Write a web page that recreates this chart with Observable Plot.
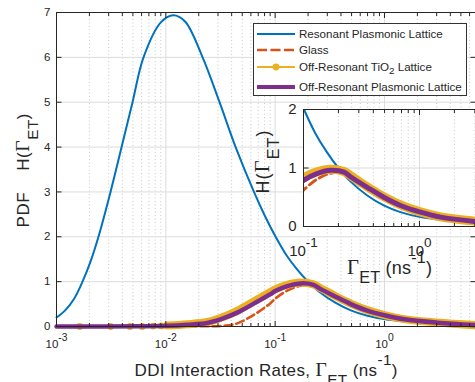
<!DOCTYPE html>
<html><head><meta charset="utf-8">
<script src="https://cdn.jsdelivr.net/npm/d3@7"></script>
<script src="https://cdn.jsdelivr.net/npm/@observablehq/plot@0.6"></script>
<style>
body{margin:0;background:#fff}
#wrap{position:relative;width:475px;height:382px;overflow:hidden;font-family:"Liberation Sans",Arial,sans-serif;color:#262626}
#wrap svg{position:absolute;left:0;top:0;background:transparent !important}
#legend{position:absolute;left:253px;top:23px;width:214px;height:73px;box-sizing:border-box;border:1px solid #333;background:#fff;font-size:11.6px}
#legend .row{position:absolute;left:3px;height:16px;line-height:16px;white-space:nowrap}
#legend .row svg{position:static;vertical-align:top;display:inline-block}
#legend .row span{display:inline-block;margin-left:4px;vertical-align:top}
#legend sub{font-size:0.85em;line-height:0;vertical-align:-0.3em}
</style>
</head><body><div id="wrap"></div>
<script>
// ---------- data ----------
const resonantX = [0.001, 0.0012, 0.00145, 0.00173, 0.00205, 0.00242, 0.00312, 0.00394, 0.00496, 0.00625, 0.0090, 0.0117, 0.0150, 0.0217, 0.031, 0.0435, 0.064, 0.080, 0.101, 0.126, 0.158, 0.2, 0.251, 0.355, 0.492, 0.685, 1.02, 1.52, 3.04, 6.8];
const resonantY = [0.2, 0.36, 0.62, 1.0, 1.45, 2, 3, 4, 5, 6, 6.78, 6.94, 6.8, 6, 5, 4, 3, 2.48, 2.0, 1.6, 1.28, 1.0, 0.78, 0.53, 0.36, 0.245, 0.16, 0.115, 0.055, 0.02];

const glassX = [0.001, 0.01, 0.02, 0.035, 0.045, 0.0638, 0.0906, 0.1, 0.129, 0.171, 0.224, 0.254, 0.354, 0.492, 0.685, 1.02, 1.52, 3.04, 6.8];
const glassY = [0, 0, 0.004, 0.02, 0.07, 0.26, 0.52, 0.62, 0.80, 0.91, 0.92, 0.86, 0.67, 0.50, 0.36, 0.245, 0.16, 0.085, 0.03];

const tio2X = [0.001, 0.006, 0.0103, 0.0157, 0.0239, 0.0316, 0.045, 0.0638, 0.0906, 0.1, 0.129, 0.171, 0.224, 0.254, 0.354, 0.492, 0.685, 1.02, 1.52, 3.04, 6.8];
const tio2Y = [0, 0.008, 0.02, 0.05, 0.10, 0.19, 0.35, 0.56, 0.77, 0.83, 0.93, 0.98, 0.94, 0.87, 0.68, 0.51, 0.37, 0.25, 0.165, 0.09, 0.03];
const tio2MarkerX = [0.00163, 0.00312, 0.00469, 0.00608, 0.00767, 0.00908, 0.0106];
const tio2MarkerY = [0, 0, 0, 0, 0.01, 0.013, 0.02];

const offResX = [0.001, 0.006, 0.0103, 0.0157, 0.0239, 0.0316, 0.045, 0.0638, 0.0906, 0.1, 0.129, 0.171, 0.224, 0.254, 0.354, 0.492, 0.685, 1.02, 1.52, 3.04, 6.8];
const offResY = [0, 0.005, 0.015, 0.04, 0.08, 0.16, 0.31, 0.51, 0.72, 0.79, 0.90, 0.96, 0.93, 0.85, 0.67, 0.50, 0.36, 0.245, 0.16, 0.085, 0.03];

// ---------- ticks ----------
const xMajorMain = [0.001, 0.01, 0.1, 1];
const xMajorLabels = ["10^{-3}", "10^{-2}", "10^{-1}", "10^{0}"];
const xMinorMain = [0.002,0.003,0.004,0.005,0.006,0.007,0.008,0.009,0.02,0.03,0.04,0.05,0.06,0.07,0.08,0.09,0.2,0.3,0.4,0.5,0.6,0.7,0.8,0.9,2,3,4,5,6];
const yTicksMain = [0,1,2,3,4,5,6,7];
const insetXMajor = [0.1, 1];
const insetXLabels = ["10^{-1}", "10^{0}"];
const insetXMinor = [0.2,0.3,0.4,0.5,0.6,0.7,0.8,0.9,2,3];
const insetYTicks = [0,1,2];

const xLabel = "DDI Interaction Rates, Γ_{ET} (ns^{-1})";
const yLabel = "PDF\u00a0\u00a0\u00a0\u00a0H(Γ_{ET})";
const insetXLabel = "Γ_{ET} (ns^{-1})";
const insetYLabel = "H(Γ_{ET})";

const seriesNames = ["Resonant Plasmonic Lattice", "Glass", "Off-Resonant TiO_2 Lattice", "Off-Resonant Plasmonic Lattice"];
const colors = {blue:"#0072BD", red:"#D95319", yellow:"#EDB120", purple:"#7E2F8E"};

const zipXY = (X, Y) => X.map((x, i) => ({x, y: Y[i]}));
const resonant = zipXY(resonantX, resonantY);
const glass = zipXY(glassX, glassY);
const tio2 = zipXY(tio2X, tio2Y);
const tio2Markers = zipXY(tio2MarkerX, tio2MarkerY);
const offRes = zipXY(offResX, offResY);

const AX = "#262626", GRID = "#dcdcdc", MINOR = "#bdbdbd";
const FONT = "Liberation Sans, Arial, sans-serif";
const CURVE = "catmull-rom";
// rendered length (px) of the axis titles, as measured on the reference
const labelLength = new Map([[xLabel, 263], [yLabel, 114], [insetXLabel, 85], [insetYLabel, 63]]);

// tick marks as custom dot symbols (length = r)
const mk = (dx, dy) => ({draw(c, s){ const l = Math.sqrt(s/Math.PI); c.moveTo(0,0); c.lineTo(dx*l, dy*l); }});
const tUp = mk(0,-1), tDown = mk(0,1), tRight = mk(1,0), tLeft = mk(-1,0);

function texify(el){
  const s = el.textContent;
  if (!/[\^_Γ]/.test(s)) return;
  const fs = parseFloat(getComputedStyle(el).fontSize) || 12;
  const ns = "http://www.w3.org/2000/svg";
  el.textContent = "";
  let shift = 0;
  for (const m of s.matchAll(/([\^_])\{([^}]*)\}|(Γ)|([^\^_Γ]+)/g)) {
    const t = document.createElementNS(ns, "tspan");
    let target = 0;
    if (m[1]) { target = m[1] === "^" ? -0.6*fs : 0.55*fs; t.setAttribute("font-size", 0.9*fs); t.textContent = m[2]; }
    else if (m[3]) { t.setAttribute("font-family", "Liberation Serif, DejaVu Serif, serif"); t.setAttribute("font-size", 1.15*fs); t.textContent = "Γ"; }
    else t.textContent = m[4];
    const dy = target - shift;
    if (dy) t.setAttribute("dy", dy);
    shift = target;
    el.appendChild(t);
  }
  if (labelLength.has(s)) {
    el.setAttribute("textLength", labelLength.get(s));
    el.setAttribute("lengthAdjust", "spacing");
  }
}

const wrap = document.getElementById("wrap");

// ---------- main plot ----------
const main = Plot.plot({
  width: 475, height: 382,
  marginLeft: 56, marginRight: 0, marginTop: 12, marginBottom: 56,
  x: {type: "log", domain: [0.001, 6.8], axis: null},
  y: {domain: [0, 7], axis: null},
  marks: [
    Plot.ruleX(xMinorMain, {x: d => d, stroke: MINOR, strokeWidth: 0.8, strokeDasharray: "1,2.5"}),
    Plot.ruleX(xMajorMain, {x: d => d, stroke: GRID, strokeWidth: 1}),
    Plot.ruleY(yTicksMain, {y: d => d, stroke: GRID, strokeWidth: 1}),
    Plot.line(resonant, {x: "x", y: "y", stroke: colors.blue, strokeWidth: 2, curve: CURVE}),
    Plot.line(glass, {x: "x", y: "y", stroke: colors.red, strokeWidth: 2.6, strokeDasharray: "8,4", curve: CURVE}),
    Plot.line(tio2, {x: "x", y: "y", stroke: colors.yellow, strokeWidth: 2, curve: CURVE}),
    Plot.line(tio2.filter(d => d.x >= 0.0103), {x: "x", y: "y", stroke: colors.yellow, strokeWidth: 8, curve: CURVE}),
    Plot.dot(tio2Markers, {x: "x", y: "y", r: 3.4, fill: colors.yellow, stroke: "none"}),
    Plot.line(offRes, {x: "x", y: "y", stroke: colors.purple, strokeWidth: 4.5, curve: CURVE}),
    Plot.frame({stroke: AX, strokeWidth: 1}),
    Plot.dot(xMajorMain, {x: d => d, frameAnchor: "bottom", symbol: tUp, r: 5.5, fill: "none", stroke: AX, strokeWidth: 1}),
    Plot.dot(xMinorMain, {x: d => d, frameAnchor: "bottom", symbol: tUp, r: 3.5, fill: "none", stroke: AX, strokeWidth: 1}),
    Plot.dot(xMajorMain, {x: d => d, frameAnchor: "top", symbol: tDown, r: 5.5, fill: "none", stroke: AX, strokeWidth: 1}),
    Plot.dot(xMinorMain, {x: d => d, frameAnchor: "top", symbol: tDown, r: 3.5, fill: "none", stroke: AX, strokeWidth: 1}),
    Plot.dot(yTicksMain, {y: d => d, frameAnchor: "left", symbol: tRight, r: 5, fill: "none", stroke: AX, strokeWidth: 1}),
    Plot.dot(yTicksMain, {y: d => d, frameAnchor: "right", symbol: tLeft, r: 5, fill: "none", stroke: AX, strokeWidth: 1}),
    Plot.text(xMajorMain, {x: d => d, frameAnchor: "bottom", dy: 21, textAnchor: "middle", lineAnchor: "bottom", text: (d, i) => xMajorLabels[i], fontSize: 11.5, fontFamily: FONT, fill: AX}),
    Plot.text(yTicksMain, {y: d => d, frameAnchor: "left", dx: -6, textAnchor: "end", lineAnchor: "middle", text: d => String(d), fontSize: 11.5, fontFamily: FONT, fill: AX}),
    Plot.text([xLabel], {frameAnchor: "bottom", dy: 49, textAnchor: "middle", lineAnchor: "bottom", text: d => d, fontSize: 17, fontFamily: FONT, fill: AX}),
    Plot.text([yLabel], {frameAnchor: "left", dx: -27.5, dy: 1, rotate: -90, textAnchor: "middle", lineAnchor: "bottom", text: d => d, fontSize: 17, fontFamily: FONT, fill: AX})
  ]
});
wrap.appendChild(main);

// ---------- legend ----------
const legend = document.createElement("div");
legend.id = "legend";
const rowTops = [2, 18, 35, 55];
const swatches = [
  `<line x1="0" x2="38" y1="8" y2="8" stroke="${colors.blue}" stroke-width="2"/>`,
  `<line x1="0" x2="38" y1="8" y2="8" stroke="${colors.red}" stroke-width="2.6" stroke-dasharray="10,3.5"/>`,
  `<line x1="0" x2="38" y1="8" y2="8" stroke="${colors.yellow}" stroke-width="2"/><circle cx="19" cy="8" r="3.4" fill="${colors.yellow}"/>`,
  `<line x1="0" x2="38" y1="8" y2="8" stroke="${colors.purple}" stroke-width="4"/>`
];
seriesNames.forEach((name, i) => {
  const row = document.createElement("div");
  row.className = "row";
  row.style.top = rowTops[i] + "px";
  const html = name.replace(/_(\w)/, "<sub>$1</sub>");
  row.innerHTML = `<svg width="38" height="16">${swatches[i]}</svg><span>${html}</span>`;
  legend.appendChild(row);
});
wrap.appendChild(legend);

// ---------- inset ----------
const inset = Plot.plot({
  width: 475, height: 382,
  marginLeft: 303, marginRight: 0, marginTop: 109, marginBottom: 156,
  x: {type: "log", domain: [0.1, 3.04], axis: null},
  y: {domain: [0, 2], axis: null},
  marks: [
    Plot.frame({fill: "#fff", stroke: "none"}),
    Plot.ruleX(insetXMinor, {x: d => d, stroke: MINOR, strokeWidth: 0.8, strokeDasharray: "1,2.5"}),
    Plot.ruleX(insetXMajor, {x: d => d, stroke: GRID, strokeWidth: 1}),
    Plot.ruleY(insetYTicks, {y: d => d, stroke: GRID, strokeWidth: 1}),
    Plot.line(resonant, {x: "x", y: "y", stroke: colors.blue, strokeWidth: 2, curve: CURVE, clip: true}),
    Plot.line(glass, {x: "x", y: "y", stroke: colors.red, strokeWidth: 2.8, strokeDasharray: "8,4", curve: CURVE, clip: true}),
    Plot.line(tio2, {x: "x", y: "y", stroke: colors.yellow, strokeWidth: 9, curve: CURVE, clip: true}),
    Plot.line(offRes, {x: "x", y: "y", stroke: colors.purple, strokeWidth: 5, curve: CURVE, clip: true}),
    Plot.frame({stroke: AX, strokeWidth: 1}),
    Plot.dot(insetXMajor, {x: d => d, frameAnchor: "bottom", symbol: tUp, r: 5.5, fill: "none", stroke: AX, strokeWidth: 1}),
    Plot.dot(insetXMinor, {x: d => d, frameAnchor: "bottom", symbol: tUp, r: 3.5, fill: "none", stroke: AX, strokeWidth: 1}),
    Plot.dot(insetXMajor, {x: d => d, frameAnchor: "top", symbol: tDown, r: 5.5, fill: "none", stroke: AX, strokeWidth: 1}),
    Plot.dot(insetXMinor, {x: d => d, frameAnchor: "top", symbol: tDown, r: 3.5, fill: "none", stroke: AX, strokeWidth: 1}),
    Plot.dot(insetYTicks, {y: d => d, frameAnchor: "left", symbol: tRight, r: 5, fill: "none", stroke: AX, strokeWidth: 1}),
    Plot.text(insetXMajor, {x: d => d, frameAnchor: "bottom", dy: 29, textAnchor: "middle", lineAnchor: "bottom", text: (d, i) => insetXLabels[i], fontSize: 15, fontFamily: FONT, fill: AX}),
    Plot.text(insetYTicks, {y: d => d, frameAnchor: "left", dx: -7, textAnchor: "end", lineAnchor: "middle", text: d => String(d), fontSize: 15, fontFamily: FONT, fill: AX}),
    Plot.text([insetXLabel], {frameAnchor: "bottom", dy: 47, textAnchor: "middle", lineAnchor: "bottom", text: d => d, fontSize: 18, fontFamily: FONT, fill: AX}),
    Plot.text([insetYLabel], {frameAnchor: "left", dx: -34.5, dy: -6, rotate: -90, textAnchor: "middle", lineAnchor: "bottom", text: d => d, fontSize: 18, fontFamily: FONT, fill: AX})
  ]
});
wrap.appendChild(inset);

for (const svg of [main, inset]) {
  svg.style.background = "transparent";
  d3.select(svg).selectAll("text").each(function(){ texify(this); });
}
</script>
</body></html>
